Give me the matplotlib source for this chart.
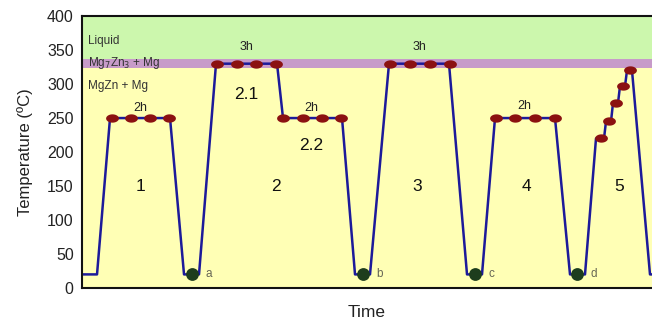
import numpy as np
import matplotlib
matplotlib.use("Agg")
import matplotlib.pyplot as plt

plt.rcParams['font.family'] = ['Liberation Sans', 'DejaVu Sans']

# heat treatment profile (time in arbitrary units, temperature in degC)
profile_t = [0, 15, 28, 88, 102, 117, 134, 195, 201, 260, 273, 288, 307, 367,
             385, 400, 413, 473, 488, 503, 514, 522, 524, 529, 531, 536, 538,
             543, 545, 550, 568, 570]
profile_T = [20, 20, 250, 250, 20, 20, 330, 330, 250, 250, 20, 20, 330, 330,
             20, 20, 250, 250, 20, 20, 220, 220, 245, 245, 272, 272, 297,
             297, 320, 320, 20, 20]

# ageing hold points (red dots)
hold_t = [30, 49, 68, 87, 135, 155, 174, 194, 201, 221, 240, 259,
          308, 328, 348, 368, 414, 433, 453, 473,
          519, 527, 534, 541, 548]
hold_T = [250] * 4 + [330] * 4 + [250] * 4 + [330] * 4 + [250] * 4 + \
         [221, 246, 272, 297, 321]

# quench points (green dots)
quench_t = [110, 281, 393, 495]
quench_T = [20, 20, 20, 20]
quench_lab = ["a", "b", "c", "d"]

# phase fields
phase_names = ["Liquid", "Mg$_7$Zn$_3$ + Mg", "MgZn + Mg"]
phase_lo = [337, 323, 0]
phase_hi = [400, 337, 323]
phase_col = ["#ccf7ad", "#c79bc9", "#ffffb5"]
phase_lab_T = [363, 331, 297]

# annotations
hold_lab = ["2h", "3h", "2h", "3h", "2h"]
hold_lab_t = [58, 164, 229, 337, 442]
hold_lab_T = [265, 354, 265, 354, 268]
step_lab = ["1", "2", "3", "4", "5", "2.1", "2.2"]
step_lab_t = [58, 194, 335, 444, 537, 164, 229]
step_lab_T = [150, 150, 150, 150, 150, 284, 209]

fig = plt.figure(figsize=(6.52, 3.22), dpi=100)
ax = fig.add_axes([0.1258, 0.1056, 0.8742, 0.8444])

for lo, hi, c in zip(phase_lo, phase_hi, phase_col):
    ax.axhspan(lo, hi, color=c, lw=0, zorder=0)
for name, T in zip(phase_names, phase_lab_T):
    ax.text(6, T, name, fontsize=8.5, color="#333333", va="center", ha="left")

ax.plot(profile_t, profile_T, color="#1c1a9a", lw=1.8, zorder=2)

ang = np.linspace(0, 2 * np.pi, 40)
ellipse = np.column_stack([np.cos(ang), 0.65 * np.sin(ang)])
ax.scatter(hold_t, hold_T, marker=ellipse, s=85, color="#8b1111", zorder=3,
           linewidths=0)
ax.scatter(quench_t, quench_T, s=85, color="#1d3d1d", zorder=3, linewidths=0)
for t, T, lab in zip(quench_t, quench_T, quench_lab):
    ax.text(t + 13, T, lab, fontsize=8.5, color="#666655", va="center", ha="left")

for lab, t, T in zip(hold_lab, hold_lab_t, hold_lab_T):
    ax.text(t, T, lab, fontsize=9, color="#222222", ha="center", va="center")
for lab, t, T in zip(step_lab, step_lab_t, step_lab_T):
    ax.text(t, T, lab, fontsize=12.5, color="#111111", ha="center", va="center")

ax.set_xlim(0, 570)
ax.set_ylim(0, 400)
ax.set_yticks(np.arange(0, 401, 50))
ax.set_xticks([])
ax.tick_params(axis="y", length=0, labelsize=11.5, pad=6, labelcolor="#222222")
ax.set_ylabel("Temperature (\u00baC)", fontsize=12, color="#222222", labelpad=10)
ax.set_xlabel("Time", fontsize=12.5, color="#222222", labelpad=12)
ax.spines["right"].set_visible(False)
for s in ["left", "top", "bottom"]:
    ax.spines[s].set_linewidth(1.5)
    ax.spines[s].set_color("#111111")

fig.savefig("out.png", dpi=100)
